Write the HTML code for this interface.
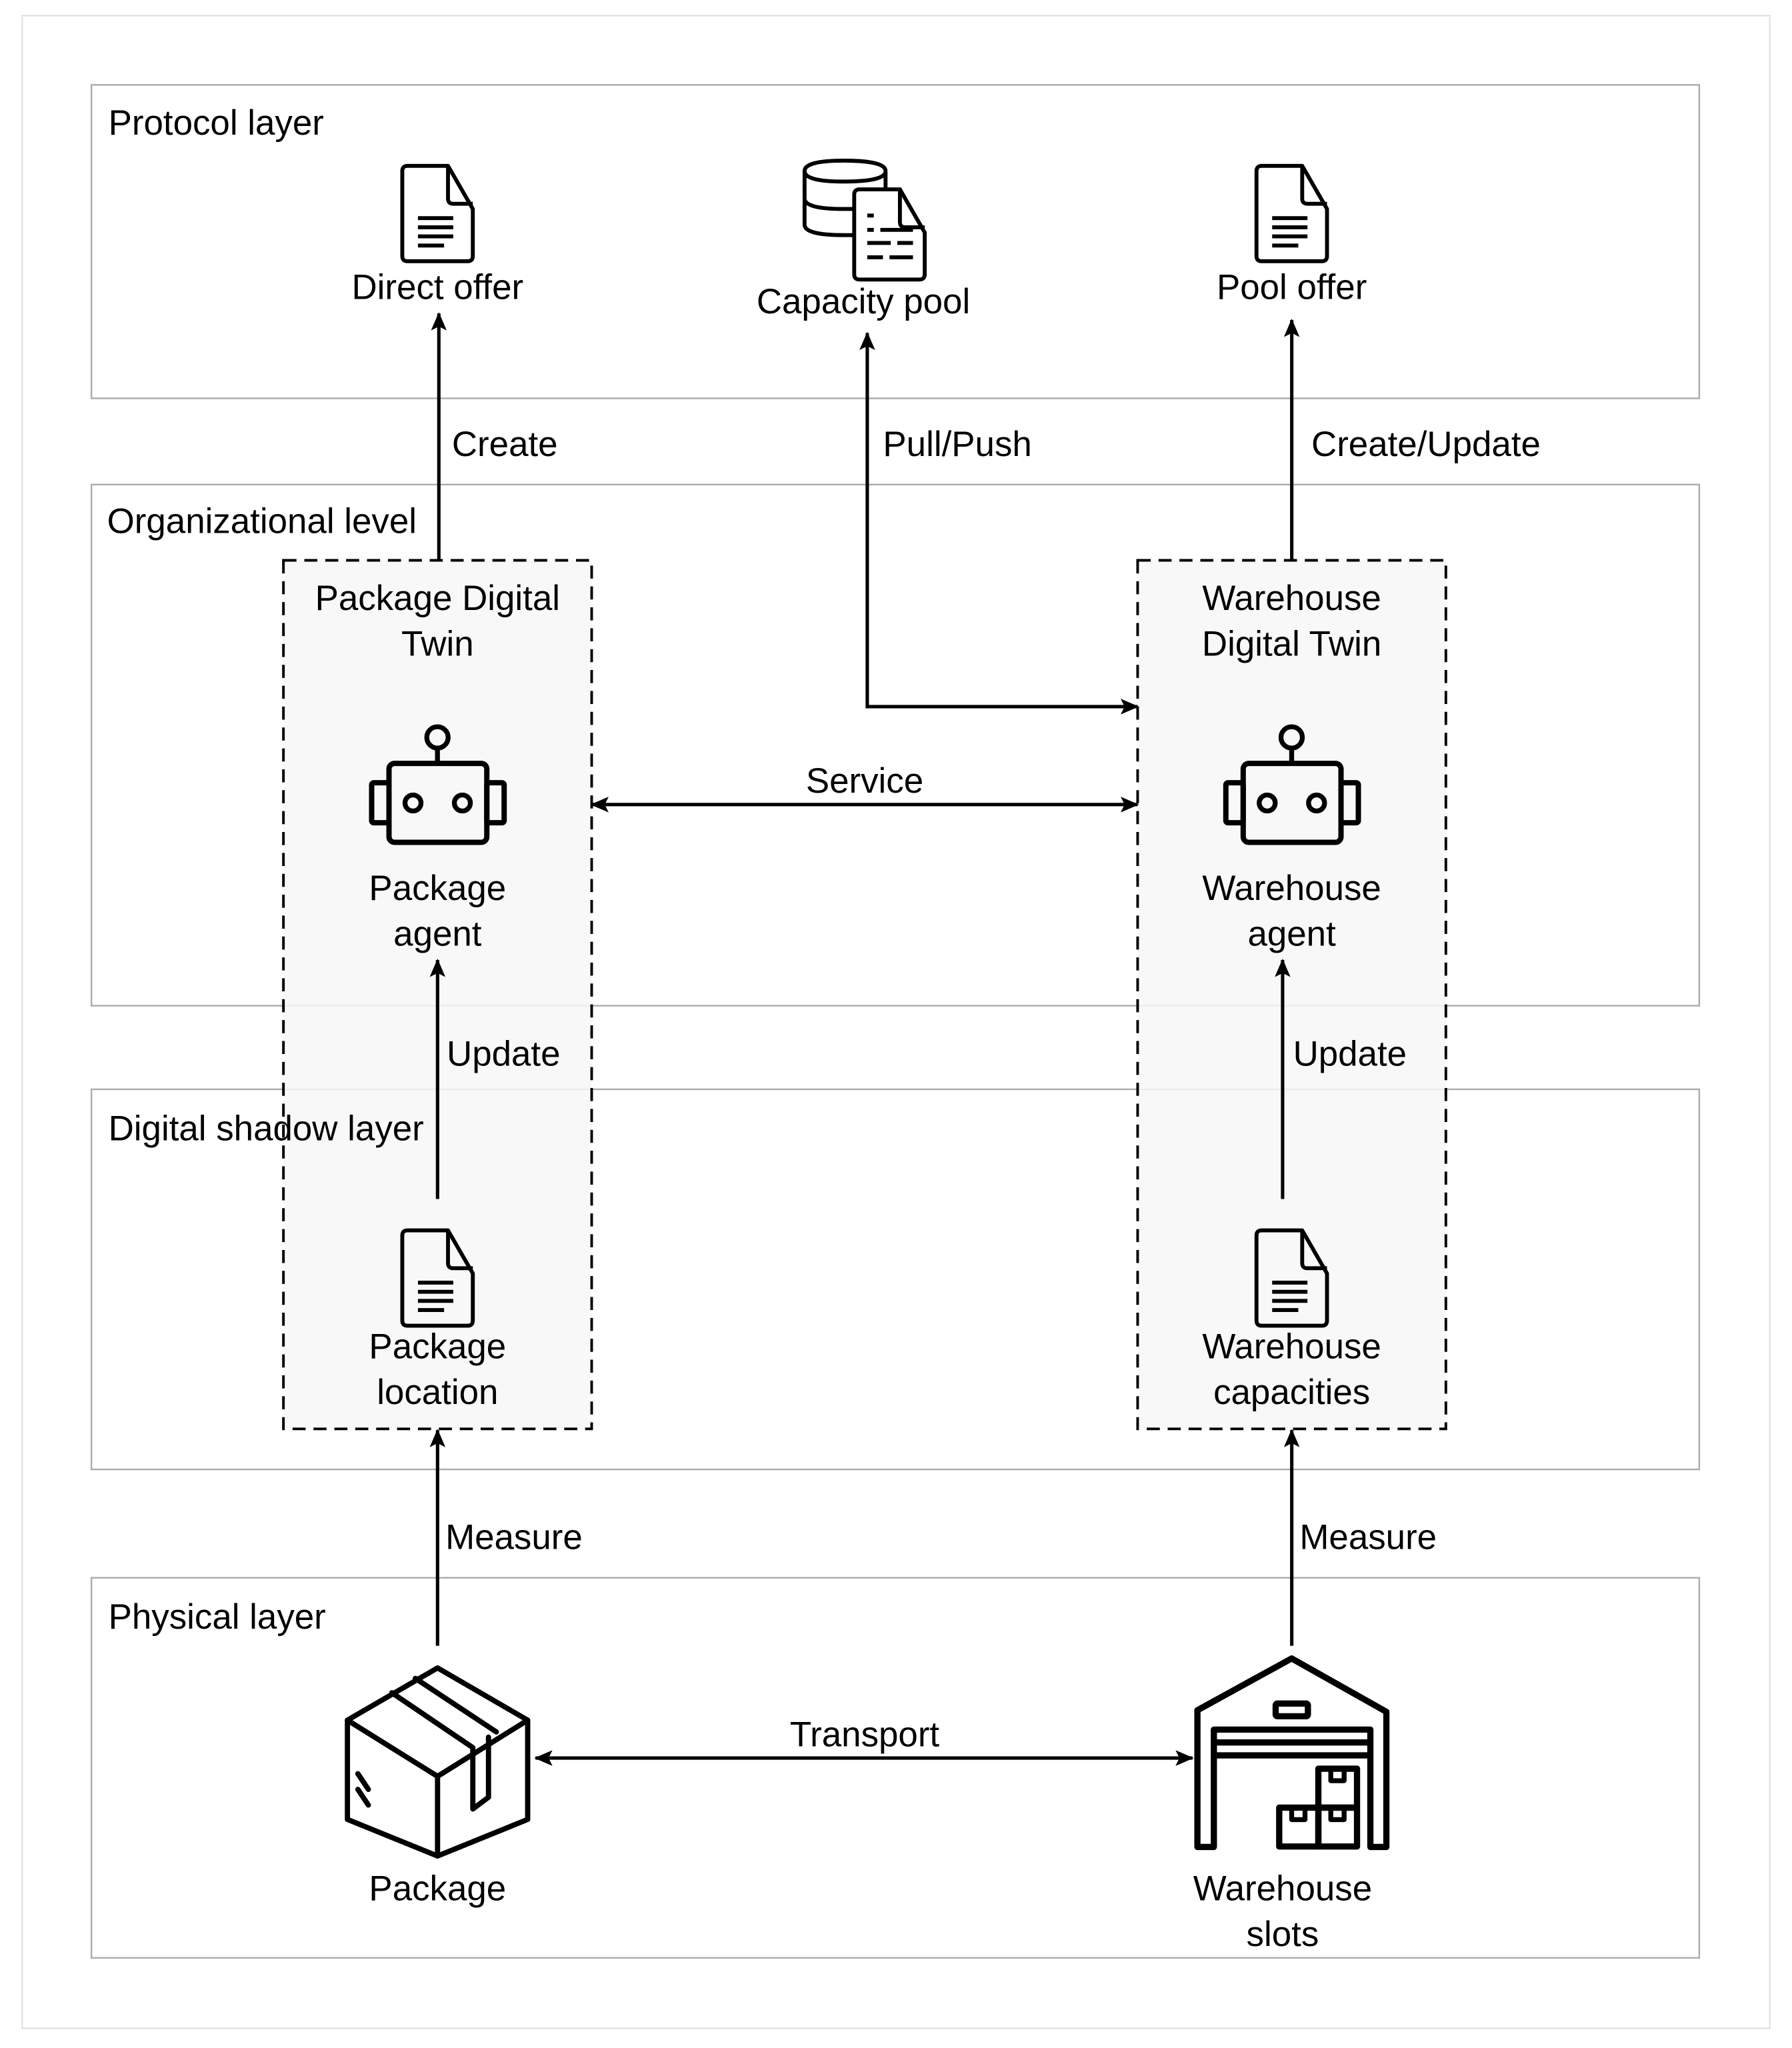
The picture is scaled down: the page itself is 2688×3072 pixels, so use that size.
<!DOCTYPE html>
<html><head><meta charset="utf-8"><style>html,body{margin:0;padding:0;background:#fff}svg{display:block}text{font-family:"Liberation Sans",sans-serif;font-size:27px;fill:#000}</style></head>
<body>
<svg width="2688" height="3072" viewBox="0 0 1372 1568" xmlns="http://www.w3.org/2000/svg">
<defs>
<marker id="ah" markerWidth="14" markerHeight="12" refX="13" refY="6" orient="auto-start-reverse" markerUnits="userSpaceOnUse"><path d="M0,0 L14,6 L0,12 L3,6 Z" fill="#000"/></marker>
<g id="doc" fill="none" stroke="#000" stroke-width="3" stroke-linejoin="round">
<path d="M4 0 H35 L54 33 V69 Q54 73 50 73 H4 Q0 73 0 69 V4 Q0 0 4 0 Z"/>
<path d="M35 0 V25 Q35 29 39 29 H54"/>
<path d="M12 40 H39 M12 47 H39 M12 54 H39 M12 61 H32"/>
</g>
<g id="robot" fill="none" stroke="#000" stroke-linejoin="round">
<rect x="130" y="225" width="440" height="355" rx="25" stroke-width="24"/>
<rect x="52" y="312" width="78" height="180" rx="10" stroke-width="24"/>
<rect x="570" y="312" width="78" height="180" rx="10" stroke-width="24"/>
<circle cx="348" cy="108" r="48" stroke-width="22"/>
<line x1="348" y1="156" x2="348" y2="225" stroke-width="22"/>
<circle cx="238" cy="403" r="36" stroke-width="22"/>
<circle cx="460" cy="403" r="36" stroke-width="22"/>
</g>
</defs>
<rect x="17" y="12" width="1338" height="1541" fill="#fff" stroke="#ddd" stroke-width="1"/>
<g fill="#fff" stroke="#aaa" stroke-width="1.2">
<rect x="70" y="65" width="1231" height="240"/>
<rect x="70" y="371" width="1231" height="399"/>
<rect x="70" y="834" width="1231" height="291"/>
<rect x="70" y="1208" width="1231" height="291"/>
</g>
<g fill="#f7f7f7" fill-opacity="0.85" stroke="#000" stroke-width="2" stroke-dasharray="10,6">
<rect x="217" y="429" width="236" height="665"/>
<rect x="871" y="429" width="236" height="665"/>
</g>
<text x="83" y="103">Protocol layer</text>
<text x="82" y="408">Organizational level</text>
<text x="83" y="873">Digital shadow layer</text>
<text x="83" y="1247">Physical layer</text>
<use href="#doc" x="308" y="127"/>
<use href="#doc" x="962" y="127"/>
<use href="#doc" x="308" y="942"/>
<use href="#doc" x="962" y="942"/>
<g fill="none" stroke="#000" stroke-width="3">
<path d="M616 131 V172 Q616 180 646 180 Q654 180 654 180 M616 131 Q616 123 646 123 Q678 123 678 131 Q678 139 646 139 Q616 139 616 131 M616 152 Q616 160 646 160 H654 M678 131 V146"/>
<path d="M658 145 H689 L708 178 V210 Q708 214 704 214 H658 Q654 214 654 210 V149 Q654 145 658 145 Z"/>
<path d="M689 145 V170 Q689 174 693 174 H708"/>
<path d="M664 165 H669 M664 176 H669 M674 176 H699 M664 186 H682 M687 186 H699 M664 197 H676 M681 197 H699"/>
</g>
<text x="335" y="229" text-anchor="middle">Direct offer</text>
<text x="661" y="240" text-anchor="middle">Capacity pool</text>
<text x="989" y="229" text-anchor="middle">Pool offer</text>
<text x="335" y="467" text-anchor="middle">Package Digital</text>
<text x="335" y="502" text-anchor="middle">Twin</text>
<text x="989" y="467" text-anchor="middle">Warehouse</text>
<text x="989" y="502" text-anchor="middle">Digital Twin</text>
<use href="#robot" transform="translate(275.7,546.2) scale(0.1702)"/>
<use href="#robot" transform="translate(929.7,546.2) scale(0.1702)"/>
<text x="335" y="689" text-anchor="middle">Package</text>
<text x="335" y="724" text-anchor="middle">agent</text>
<text x="989" y="689" text-anchor="middle">Warehouse</text>
<text x="989" y="724" text-anchor="middle">agent</text>
<text x="335" y="1040" text-anchor="middle">Package</text>
<text x="335" y="1075" text-anchor="middle">location</text>
<text x="989" y="1040" text-anchor="middle">Warehouse</text>
<text x="989" y="1075" text-anchor="middle">capacities</text>
<g fill="none" stroke="#000" stroke-width="4" stroke-linejoin="round" stroke-linecap="round">
<path d="M335 1277 L404 1317 L404 1393 L335 1421 L266 1393 L266 1317 Z"/>
<path d="M266 1317 L335 1360 L404 1317 M335 1360 V1421"/>
<path d="M300 1296 L362 1338 M318 1285 L380 1326 M362 1338 V1385 L374 1376 V1330"/>
<path d="M274 1358 L282 1370 M274 1370 L282 1382"/>
</g>
<g transform="translate(908.6,1266) scale(0.1702)" fill="none" stroke="#000" stroke-width="28" stroke-linejoin="round">
<path d="M48 870 L48 255 L472 22 L898 262 L898 870 L826 870 L826 342 L122 342 L122 870 Z"/>
<path d="M122 400 H826 M122 458 H826"/>
<rect x="400" y="225" width="145" height="57" rx="8"/>
<rect x="592" y="518" width="174" height="175"/>
<rect x="416" y="693" width="176" height="175"/>
<rect x="592" y="693" width="174" height="175"/>
<path d="M648 520 V572 H708 V520 M472 695 V747 H532 V695 M648 695 V747 H708 V695" stroke-width="22"/>
</g>
<text x="335" y="1455" text-anchor="middle">Package</text>
<text x="982" y="1455" text-anchor="middle">Warehouse</text>
<text x="982" y="1490" text-anchor="middle">slots</text>
<g stroke="#000" stroke-width="2.6" fill="none">
<line x1="336" y1="429" x2="336" y2="240" marker-end="url(#ah)"/>
<path d="M664 255 V541 H871" marker-end="url(#ah)" marker-start="url(#ah)"/>
<line x1="989" y1="429" x2="989" y2="245" marker-end="url(#ah)"/>
<line x1="453" y1="616" x2="871" y2="616" marker-end="url(#ah)" marker-start="url(#ah)"/>
<line x1="335" y1="918" x2="335" y2="735" marker-end="url(#ah)"/>
<line x1="982" y1="918" x2="982" y2="735" marker-end="url(#ah)"/>
<line x1="335" y1="1260" x2="335" y2="1095" marker-end="url(#ah)"/>
<line x1="989" y1="1260" x2="989" y2="1095" marker-end="url(#ah)"/>
<line x1="410" y1="1346" x2="913" y2="1346" marker-end="url(#ah)" marker-start="url(#ah)"/>
</g>
<text x="346" y="349">Create</text>
<text x="676" y="349">Pull/Push</text>
<text x="1004" y="349">Create/Update</text>
<text x="662" y="607" text-anchor="middle">Service</text>
<text x="342" y="816">Update</text>
<text x="990" y="816">Update</text>
<text x="341" y="1186">Measure</text>
<text x="995" y="1186">Measure</text>
<text x="662" y="1337" text-anchor="middle">Transport</text>
</svg>
</body></html>
